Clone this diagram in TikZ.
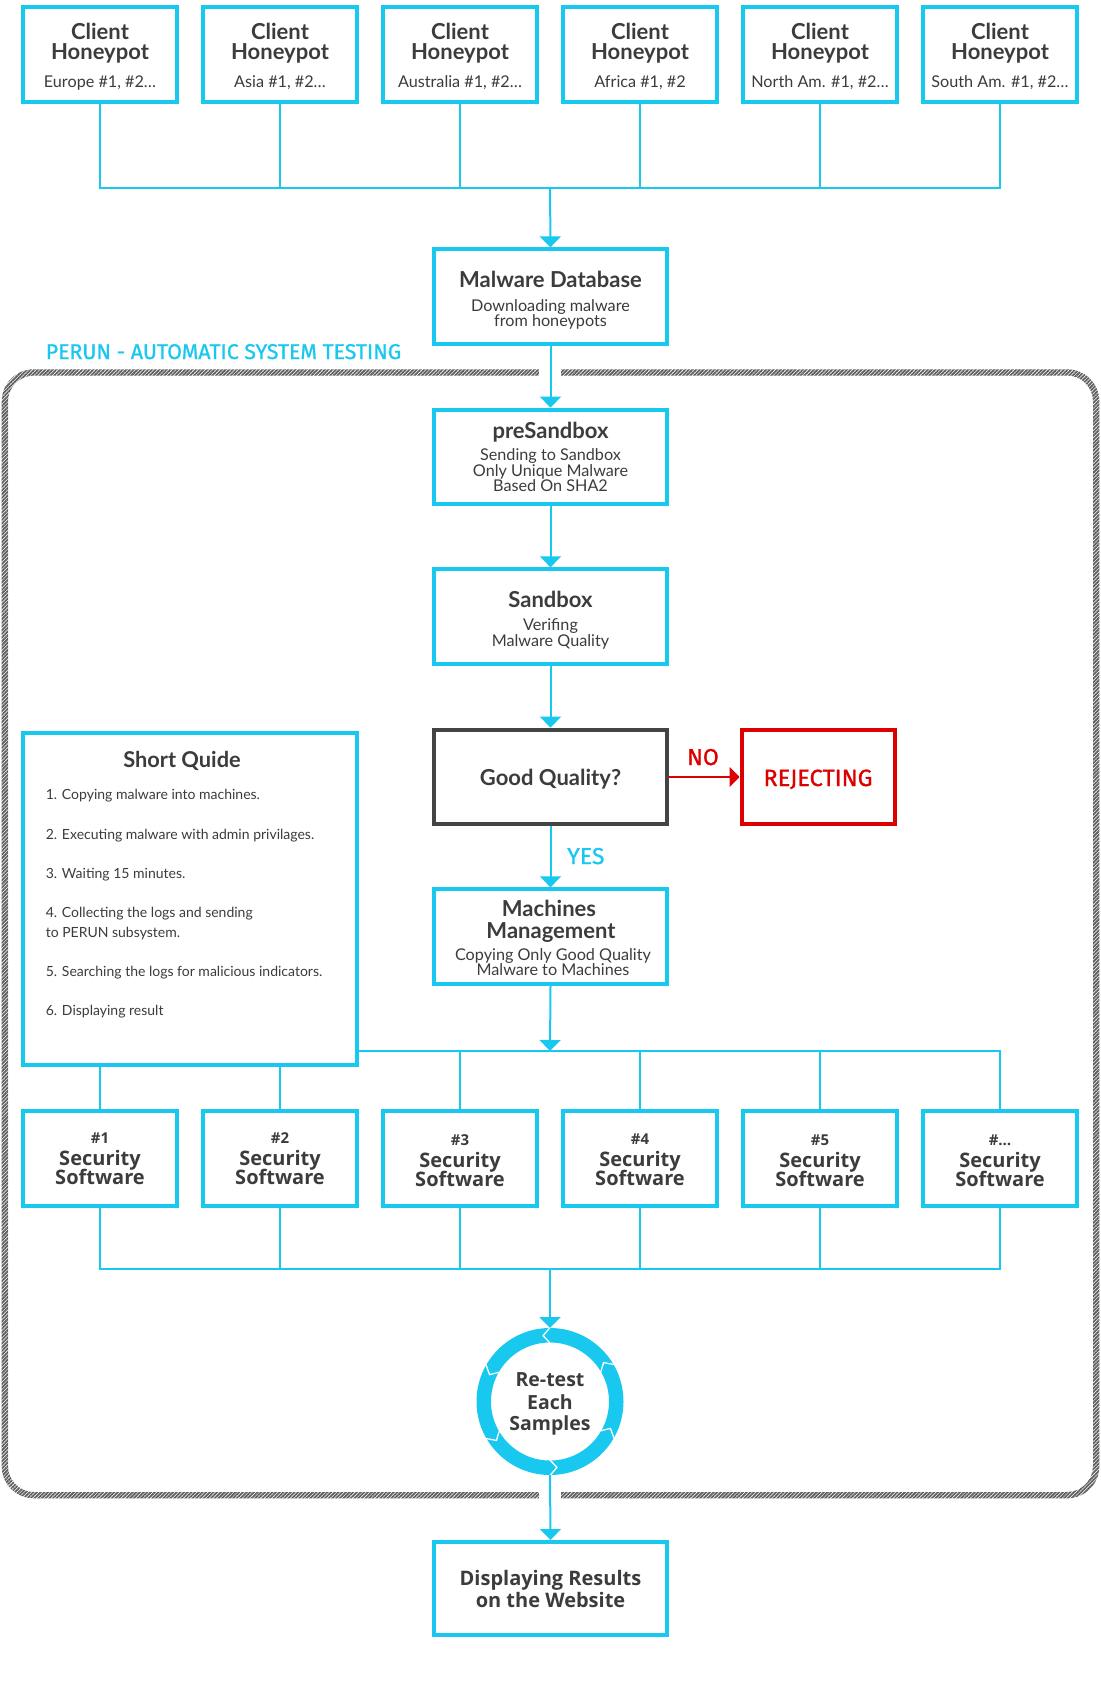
\documentclass[tikz,border=0pt]{standalone}
\usepackage{fontspec}
\setmainfont{Lato}
\newfontfamily\firaf[FakeBold=1]{Fira Sans}
\newfontfamily\osans{Open Sans}
\usetikzlibrary{arrows.meta,calc,patterns.meta}
\definecolor{cy}{HTML}{19C8EF}
\definecolor{tx}{HTML}{3C3C3C}
\definecolor{rd}{HTML}{DD0000}
\definecolor{hg}{HTML}{5E5E5E}
\definecolor{gqc}{HTML}{444444}
\begin{document}
\begin{tikzpicture}[x=1pt,y=-1pt,
  box/.style={draw=cy, line width=4pt, fill=white, minimum width=154pt, minimum height=95pt, inner sep=0pt},
  wbox/.style={box, minimum width=233.5pt, minimum height=94.7pt},
  tl/.style={anchor=base, inner sep=0pt, text=tx},
  ttl/.style={tl, font=\bfseries\fontsize{22}{24}\selectfont},
  sub/.style={tl, font=\fontsize{16.2}{18}\selectfont},
  lst/.style={anchor=base west, inner sep=0pt, text=tx, font=\fontsize{14}{16}\selectfont},
  sst/.style={tl, font=\osans\bfseries\fontsize{15}{17}\selectfont},
  sbt/.style={tl, font=\osans\bfseries\fontsize{20}{22}\selectfont},
  rtt/.style={tl, font=\osans\bfseries\fontsize{19.5}{21}\selectfont},
  lab/.style={inner sep=0pt, font=\firaf\fontsize{23}{25}\selectfont},
  conn/.style={draw=cy, line width=2pt},
  arr/.style={conn, -{Triangle[width=21pt,length=11pt]}},
  rarr/.style={draw=rd, line width=2pt, -{Triangle[width=20pt,length=10pt]}}
]
\useasboundingbox (0,0) rectangle (1100,1691);

% hatched frame
\fill[pattern={Lines[angle=45,distance=2.6pt,line width=1.8pt]}, pattern color=hg, even odd rule]
  [rounded corners=32pt] (1.7,369.3) rectangle (1099.3,1498.3)
  [rounded corners=26pt] (8,375.5) rectangle (1093,1492);
\fill[white] (539.3,364) rectangle (560.7,381);
\fill[white] (539.3,1485) rectangle (560.7,1503);
\node[anchor=base west, inner sep=0pt, text=cy, font=\firaf\fontsize{21.3}{23}\selectfont] (perun) at (45.6,359) {PERUN - AUTOMATIC SYSTEM TESTING};

% client honeypots
\coordinate (b1) at (550,187.7);
\foreach \x/\s [count=\i] in {100/{Europe \#1, \#2…},280/{Asia \#1, \#2…},460/{Australia \#1, \#2…},640/{Africa \#1, \#2},820/{North Am. \#1, \#2…},1000/{South Am. \#1, \#2…}}{
  \node[box] (c\i) at (\x,54.5) {};
  \node[ttl] (ca\i) at (\x,39.3) {Client};
  \node[ttl] (cb\i) at (\x,59.6) {Honeypot};
  \node[sub] (cc\i) at (\x,87.3) {\s};
  \draw[conn] (c\i.south) |- (b1);
}

% central chain
\node[wbox] (db) at (550.5,296.7) {};
\node[ttl] (dbt) at (550.5,287.7) {Malware Database};
\node[sub] (dbs1) at (550.5,311) {Downloading malware};
\node[sub] (dbs2) at (550.5,326) {from honeypots};

\node[wbox] (ps) at (550.5,457) {};
\node[ttl] (pst) at (550.5,438.3) {preSandbox};
\node[sub] (pss1) at (550.5,460.7) {Sending to Sandbox};
\node[sub] (pss2) at (550.5,476) {Only Unique Malware};
\node[sub] (pss3) at (550.5,491.7) {Based On SHA2};

\node[wbox] (sb) at (550.5,616.7) {};
\node[ttl] (sbt) at (550.5,607.3) {Sandbox};
\node[sub] (sbs1) at (550.5,630.7) {Verifing};
\node[sub] (sbs2) at (550.5,646.7) {Malware Quality};

\node[wbox, draw=gqc] (gq) at (550.5,777) {};
\node[ttl] (gqt) at (550.5,785) {Good Quality?};

\node[box, draw=rd, minimum width=153pt, minimum height=93.5pt] (rej) at (818,777) {};
\node[lab, anchor=base, text=rd, font=\firaf\fontsize{23.5}{25}\selectfont] (rejt) at (818,786) {REJECTING};

\node[wbox] (mm) at (550.5,936.7) {};
\node[ttl] (mmt1) at (549,916) {Machines};
\node[ttl] (mmt2) at (551,938.3) {Management};
\node[sub] (mms1) at (553,960) {Copying Only Good Quality};
\node[sub] (mms2) at (553,975) {Malware to Machines};

\draw[arr] (b1) -- (db.north);
\draw[arr] (db.south) -- (ps.north);
\draw[arr] (ps.south) -- (sb.north);
\draw[arr] (sb.south) -- (gq.north);
\draw[arr] (gq.south) -- (mm.north);
\draw[rarr] (gq.east) -- (rej.west);
\node[lab, anchor=base, text=rd] (no) at (703,765) {NO};
\node[lab, anchor=base west, text=cy] (yes) at (567,864) {YES};

% security software
\coordinate (b2) at (550,1051);
\coordinate (b3) at (550,1269);
\draw[arr] (mm.south) -- (b2);
\foreach \x/\n/\d [count=\i] in {100/1/0,280/2/0,460/3/2,640/4/1,820/5/2,1000/…/2}{
  \node[box] (s\i) at (\x,1158) {};
  \draw[conn] (b2) -| (s\i.north);
  \draw[conn] (s\i.south) |- (b3);
  \node[sst] (sa\i) at (\x,1143+\d) {\#\n};
  \node[sbt] (sb\i) at (\x,1165+\d) {Security};
  \node[sbt] (sc\i) at (\x,1184+\d) {Software};
}

% short guide
\node[box, minimum width=333.5pt, minimum height=332.6pt] (sg) at (189.75,899) {};
\node[ttl, font=\bfseries\fontsize{21.8}{23}\selectfont] (sgt) at (182,767.3) {Short Quide};
\node[lst] (g1) at (45.6,799.3) {1. Copying malware into machines.};
\node[lst] (g2) at (45.6,839.3) {2. Executing malware with admin privilages.};
\node[lst] (g3) at (45.6,878.3) {3. Waiting 15 minutes.};
\node[lst] (g4) at (45.6,917.3) {4. Collecting the logs and sending};
\node[lst] (g4b) at (45.6,937.3) {to PERUN subsystem.};
\node[lst] (g5) at (45.6,976) {5. Searching the logs for malicious indicators.};
\node[lst] (g6) at (45.6,1015) {6. Displaying result};

% re-test circle
\node[circle, draw=cy, line width=14.5pt, minimum size=132.5pt, inner sep=0pt] (rt) at (550,1401.5) {};
\foreach \a in {90,30,-30,-90,-150,150}
  \draw[white, line width=1.3pt] ($(rt.center)+(\a:74)$) -- ($(rt.center)+(\a-6:66.2)$) -- ($(rt.center)+(\a:58.5)$);
\node[rtt] (rt1) at (550,1386.7) {Re-test};
\node[rtt] (rt2) at (550,1409.3) {Each};
\node[rtt] (rt3) at (550,1430) {Samples};
\draw[arr] (b3) -- (rt.north);

% display results
\node[wbox, minimum height=93pt] (dr) at (550.5,1588.5) {};
\node[sbt] (dr1) at (550.5,1585) {Displaying Results};
\node[sbt] (dr2) at (550.5,1607) {on the Website};
\draw[arr] (rt.south) -- (dr.north);
\end{tikzpicture}
\end{document}
